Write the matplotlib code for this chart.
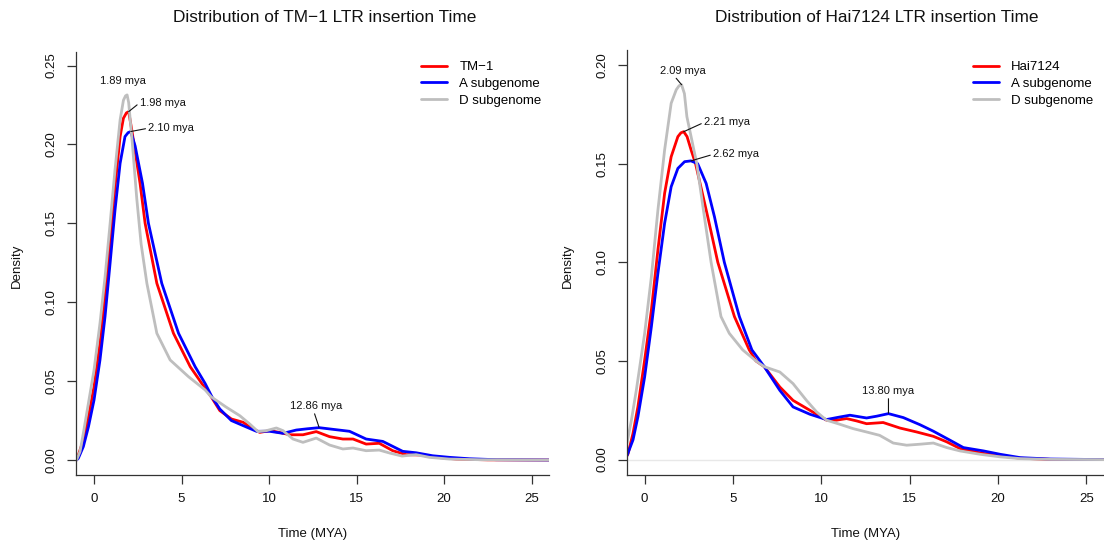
import numpy as np
import matplotlib
matplotlib.use("Agg")
import matplotlib.pyplot as plt

plt.rcParams['font.family'] = ['Liberation Sans', 'DejaVu Sans']

# ---- data: TM-1 (left) ----
tm1_x = [-1.0, -0.9, -0.61, -0.32, 0, 0.34, 0.63, 0.92, 1.2, 1.49, 1.68, 1.85, 1.98,
         2.16, 2.63, 2.92, 3.59, 4.54, 5.5, 6.16, 6.7, 7.19, 7.85, 8.52, 9.09, 9.47,
         10.04, 10.6, 11.18, 11.94, 12.7, 13.46, 14.22, 14.8, 15.55, 16.3, 17.07,
         17.83, 18.6, 19.54, 20.7, 22.5, 26]
tm1_y = [0, 0.003, 0.0127, 0.0275, 0.0465, 0.074, 0.1036, 0.139, 0.173, 0.205, 0.2166,
         0.2200, 0.2208, 0.209, 0.1754, 0.150, 0.112, 0.0803, 0.0591, 0.0485, 0.040,
         0.0313, 0.026, 0.0239, 0.0197, 0.0175, 0.0186, 0.0175, 0.016, 0.016, 0.018,
         0.0148, 0.0133, 0.0133, 0.0101, 0.0106, 0.0059, 0.0034, 0.0032, 0.0017,
         0.0006, 0.0001, 0]

tmA_x = [-1.0, -0.9, -0.61, -0.32, 0, 0.34, 0.63, 0.92, 1.2, 1.49, 1.77, 1.95, 2.10,
         2.35, 2.77, 3.11, 3.87, 4.83, 5.78, 6.35, 6.74, 7.19, 7.85, 8.52, 9.28,
         10.04, 10.8, 11.56, 12.2, 12.86, 13.84, 14.6, 15.55, 16.5, 17.64, 18.4,
         19.35, 20.3, 21.45, 23, 26]
tmA_y = [0, 0.001, 0.0085, 0.021, 0.038, 0.0634, 0.091, 0.125, 0.1585, 0.188, 0.205,
         0.2075, 0.2082, 0.199, 0.1754, 0.150, 0.112, 0.0803, 0.0591, 0.0485, 0.040,
         0.0323, 0.025, 0.0218, 0.0182, 0.0182, 0.0169, 0.019, 0.0198, 0.0205,
         0.0192, 0.0182, 0.0133, 0.0118, 0.0055, 0.0046, 0.0027, 0.0017, 0.0008,
         0.0002, 0]

tmD_x = [-1.0, -0.8, -0.61, -0.32, 0, 0.34, 0.63, 0.92, 1.2, 1.49, 1.68, 1.80, 1.89,
         1.98, 2.19, 2.44, 2.69, 3.02, 3.59, 4.35, 5.4, 6.35, 6.7, 7.57, 8.33, 8.9,
         9.37, 9.85, 10.42, 10.8, 11.37, 11.94, 12.7, 13.46, 14.22, 14.8, 15.55,
         16.3, 16.9, 17.6, 18.4, 19.16, 20.3, 22, 26]
tmD_y = [0, 0.0053, 0.017, 0.036, 0.057, 0.0866, 0.116, 0.150, 0.184, 0.2155, 0.228,
         0.2308, 0.2314, 0.2265, 0.2008, 0.166, 0.137, 0.112, 0.0803, 0.0634, 0.0528,
         0.0444, 0.040, 0.0334, 0.0281, 0.0228, 0.018, 0.0186, 0.0203, 0.0186,
         0.0133, 0.0112, 0.0139, 0.0095, 0.007, 0.0076, 0.0059, 0.0063, 0.0044,
         0.0025, 0.0034, 0.0017, 0.0006, 0.0002, 0]

# ---- Hai7124 (right) ----
hai_x = [-1.0, -0.94, -0.66, -0.38, 0, 0.38, 0.75, 1.13, 1.5, 1.88, 2.05, 2.21, 2.4,
         2.63, 2.88, 3.57, 4.14, 5.08, 5.92, 6.3, 6.77, 7.65, 8.4, 9.35, 10.29,
         10.86, 11.43, 12.0, 12.56, 13.5, 14.45, 15.4, 16.34, 17.1, 17.85, 18.99,
         20.12, 21.26, 23, 26]
hai_y = [0.002, 0.003, 0.0133, 0.0269, 0.0505, 0.0758, 0.1063, 0.135, 0.1535, 0.1637,
         0.1656, 0.1662, 0.1637, 0.1569, 0.150, 0.1231, 0.100, 0.0725, 0.0556, 0.050,
         0.0471, 0.0368, 0.030, 0.025, 0.020, 0.020, 0.0208, 0.0196, 0.0182, 0.0188,
         0.016, 0.014, 0.0118, 0.009, 0.0056, 0.0034, 0.0019, 0.0007, 0.0001, 0]

haiA_x = [-1.0, -0.66, -0.38, 0, 0.38, 0.75, 1.13, 1.5, 1.88, 2.26, 2.62, 3.0, 3.48,
          3.95, 4.51, 5.36, 6.07, 6.77, 7.65, 8.4, 9.35, 10.29, 11.05, 11.62, 12.56,
          13.13, 13.8, 14.64, 15.58, 16.34, 17.29, 18.04, 19.18, 20.12, 21.26,
          22.96, 26]
haiA_y = [0.002, 0.01, 0.0218, 0.042, 0.0674, 0.0944, 0.1198, 0.1383, 0.1476, 0.151,
          0.1514, 0.150, 0.140, 0.1231, 0.100, 0.0725, 0.0556, 0.0471, 0.0351, 0.0267,
          0.023, 0.0203, 0.0216, 0.0225, 0.0211, 0.022, 0.0233, 0.0213, 0.0177,
          0.0144, 0.0098, 0.0061, 0.0044, 0.0027, 0.001, 0.0003, 0]

haiD_x = [-1.0, -0.75, -0.47, 0, 0.38, 0.75, 1.13, 1.5, 1.79, 1.95, 2.09, 2.25, 2.39,
          2.95, 3.38, 3.76, 4.32, 4.79, 5.55, 6.3, 6.77, 7.65, 8.4, 9.16, 9.73, 10.29,
          11.05, 11.8, 12.56, 13.3, 14.07, 14.83, 15.58, 16.34, 17.1, 17.85, 18.99,
          20.12, 21.26, 23, 26]
haiD_y = [0.0083, 0.020, 0.0353, 0.064, 0.0927, 0.1265, 0.157, 0.1806, 0.1875, 0.1895,
          0.190, 0.1855, 0.1738, 0.150, 0.1231, 0.100, 0.0725, 0.064, 0.0556, 0.050,
          0.0471, 0.0444, 0.0385, 0.030, 0.0242, 0.020, 0.0179, 0.0157, 0.014, 0.0123,
          0.0084, 0.0073, 0.0078, 0.0084, 0.0061, 0.0044, 0.0027, 0.0014, 0.0005,
          0.0001, 0]

W, H = 1104, 547
fig = plt.figure(figsize=(W/100, H/100), dpi=100)
axL = fig.add_axes([76/W, 1-475/H, (549-76)/W, (475-52)/H])
axR = fig.add_axes([627/W, 1-475/H, (1104-627)/W, (475-50)/H])

lw = 2.0
kw = dict(lw=lw, solid_joinstyle='round', solid_capstyle='round')
lL1, = axL.plot(tm1_x, tm1_y, color='#ff0000', label='TM\u22121', **kw)
lL2, = axL.plot(tmA_x, tmA_y, color='#0000ff', label='A subgenome', **kw)
lL3, = axL.plot(tmD_x, tmD_y, color='#bebebe', label='D subgenome', **kw)

axR.axhline(0, color='#e8e8e8', lw=1, zorder=0)
lR1, = axR.plot(hai_x, hai_y, color='#ff0000', label='Hai7124', **kw)
lR2, = axR.plot(haiA_x, haiA_y, color='#0000ff', label='A subgenome', **kw)
lR3, = axR.plot(haiD_x, haiD_y, color='#bebebe', label='D subgenome', **kw)

axL.set_xlim(-1.03, 26)
axL.set_ylim(-0.0095, 0.2586)
axR.set_xlim(-1.0, 26)
axR.set_ylim(-0.0078, 0.2076)

for ax, yt in ((axL, [0, 0.05, 0.10, 0.15, 0.20, 0.25]), (axR, [0, 0.05, 0.10, 0.15, 0.20])):
    ax.spines['top'].set_visible(False)
    ax.spines['right'].set_visible(False)
    for s in ('left', 'bottom'):
        ax.spines[s].set_color('#333333')
        ax.spines[s].set_linewidth(0.9)
    ax.set_xticks([0, 5, 10, 15, 20, 25])
    ax.set_xticklabels(['0', '5', '10', '15', '20', '25'])
    ax.set_yticks(yt)
    ax.set_yticklabels(['%.2f' % v for v in yt], rotation=90, va='center')
    ax.tick_params(axis='both', length=6.3, width=0.9, color='#333333',
                   labelsize=9.5, labelcolor='#111111')
    ax.tick_params(axis='x', pad=7)
    ax.tick_params(axis='y', pad=7)

ann = dict(fontsize=8, color='#111111')
line = dict(arrowstyle='-', lw=0.8, color='#111111', shrinkA=0, shrinkB=0)

axL.text(1.68, 0.2402, '1.89 mya', ha='center', va='center', **ann)
axL.annotate('1.98 mya', xy=(1.98, 0.2208), xytext=(2.62, 0.2265), ha='left', va='center',
             arrowprops=dict(line, relpos=(0, 0.5)), **ann)
axL.annotate('2.10 mya', xy=(2.10, 0.2082), xytext=(3.1, 0.2103), ha='left', va='center',
             arrowprops=dict(line, relpos=(0, 0.5)), **ann)
axL.annotate('12.86 mya', xy=(12.86, 0.0207), xytext=(12.7, 0.0342), ha='center', va='center',
             arrowprops=dict(line, relpos=(0.45, 0)), **ann)

axR.annotate('2.09 mya', xy=(2.09, 0.1900), xytext=(2.17, 0.1972), ha='center', va='center',
             arrowprops=dict(line, relpos=(0.3, 0)), **ann)
axR.annotate('2.21 mya', xy=(2.21, 0.1662), xytext=(3.36, 0.1709), ha='left', va='center',
             arrowprops=dict(line, relpos=(0, 0.5)), **ann)
axR.annotate('2.62 mya', xy=(2.62, 0.1514), xytext=(3.87, 0.1547), ha='left', va='center',
             arrowprops=dict(line, relpos=(0, 0.5)), **ann)
axR.annotate('13.80 mya', xy=(13.8, 0.0235), xytext=(13.8, 0.0348), ha='center', va='center',
             arrowprops=dict(line, relpos=(0.5, 0)), **ann)

leg_kw = dict(loc='upper left', bbox_transform=fig.transFigure, frameon=False, fontsize=9.5,
              handlelength=2.0, handletextpad=0.9, labelspacing=0.35, borderpad=0,
              borderaxespad=0)
axL.legend(handles=[lL1, lL2, lL3], bbox_to_anchor=(421/W, 1-61/H), **leg_kw)
axR.legend(handles=[lR1, lR2, lR3], bbox_to_anchor=(973/W, 1-61/H), **leg_kw)

fig.text(325/W, 1-17/H, 'Distribution of TM\u22121 LTR insertion Time',
         ha='center', va='center', fontsize=12.4, color='#111111')
fig.text(877/W, 1-17/H, 'Distribution of Hai7124 LTR insertion Time',
         ha='center', va='center', fontsize=12.4, color='#111111')
for cx in ((76+549)/2, (627+1104)/2):
    fig.text(cx/W, 1-534/H, 'Time (MYA)', ha='center', va='center', fontsize=9.5, color='#111111')
for lx in (17, 568):
    fig.text(lx/W, 1-266/H, 'Density', ha='center', va='center', rotation=90,
             fontsize=9.5, color='#111111')

fig.savefig('out.png', dpi=100)
